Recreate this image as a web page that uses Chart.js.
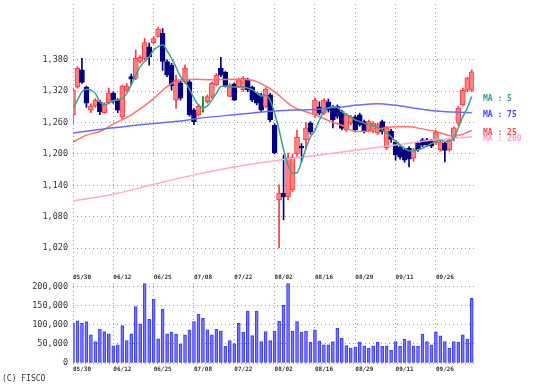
<!DOCTYPE html>
<html>
<head>
<meta charset="utf-8">
<script src="https://cdn.jsdelivr.net/npm/chart.js@4.4.0/dist/chart.umd.min.js"></script>
<style>
  body { margin: 0; background: #fff; width: 536px; height: 389px; overflow: hidden; position: relative; }
  canvas { display: block; }
  #price-wrap { position: absolute; left: 0; top: 0; }
  #vol-wrap { position: absolute; left: 0; top: 278px; }
  #credit { position: absolute; left: 2px; top: 374px; font: 8px "DejaVu Sans Mono", monospace; color: #333; }
</style>
</head>
<body>
<div id="price-wrap"><canvas id="price-chart" width="536" height="282"></canvas></div>
<div id="vol-wrap"><canvas id="vol-chart" width="536" height="100"></canvas></div>
<div id="credit">(C) FISCO</div>
<script>
// --- data ---

const DATES = ['05/30','05/31','06/03','06/04','06/05','06/06','06/07','06/10','06/11','06/12',
  '06/13','06/14','06/17','06/18','06/19','06/20','06/21','06/24','06/25','06/26',
  '06/27','06/28','07/01','07/02','07/03','07/04','07/05','07/08','07/09','07/10',
  '07/11','07/12','07/16','07/17','07/18','07/19','07/22','07/23','07/24','07/25',
  '07/26','07/29','07/30','07/31','08/01','08/02','08/05','08/06','08/07','08/08',
  '08/09','08/13','08/14','08/15','08/16','08/19','08/20','08/21','08/22','08/23',
  '08/26','08/27','08/28','08/29','08/30','09/02','09/03','09/04','09/05','09/06',
  '09/09','09/10','09/11','09/12','09/13','09/17','09/18','09/19','09/20','09/24',
  '09/25','09/26','09/27','09/30','10/01','10/02','10/03','10/04','10/07','10/08'];

const OPEN = [1275,1328,1361,1328,1284,1292,1300,1279,1298,1316,
  1303,1271,1322,1348,1345,1377,1383,1405,1413,1425,
  1431,1377,1370,1303,1336,1338,1338,1284,1275,1282,
  1300,1310,1332,1364,1356,1310,1334,1329,1323,1342,
  1328,1316,1313,1291,1313,1255,1112,1125,1118,1131,
  1200,1215,1227,1259,1275,1290,1278,1300,1290,1291,
  1281,1246,1259,1271,1275,1262,1246,1243,1240,1262,
  1212,1244,1223,1213,1208,1211,1192,1221,1227,1227,
  1225,1221,1208,1221,1208,1231,1259,1294,1322,1322];
const HIGH = [1326,1367,1383,1330,1296,1306,1303,1298,1326,1319,
  1306,1332,1335,1353,1399,1388,1421,1412,1425,1443,
  1440,1380,1374,1351,1340,1370,1342,1287,1294,1310,
  1313,1338,1354,1385,1358,1335,1336,1345,1348,1345,
  1330,1318,1316,1327,1316,1258,1141,1198,1202,1200,
  1245,1220,1260,1262,1307,1300,1306,1305,1293,1294,
  1284,1278,1274,1274,1278,1265,1265,1262,1259,1265,
  1253,1247,1226,1216,1211,1214,1211,1224,1230,1230,
  1228,1245,1226,1224,1230,1252,1291,1326,1347,1361];
const LOW = [1258,1326,1335,1289,1279,1289,1275,1278,1296,1297,
  1279,1266,1320,1332,1342,1374,1380,1370,1411,1423,
  1360,1348,1322,1287,1303,1335,1272,1256,1272,1280,
  1297,1307,1330,1348,1328,1309,1302,1327,1320,1319,
  1300,1294,1281,1288,1262,1200,1020,1074,1112,1128,
  1196,1185,1210,1238,1270,1275,1275,1280,1250,1268,
  1246,1243,1256,1243,1253,1240,1243,1240,1237,1238,
  1208,1222,1188,1190,1184,1175,1186,1205,1214,1214,
  1212,1218,1205,1185,1205,1225,1255,1292,1319,1319];
const CLOSE = [1322,1364,1337,1297,1292,1303,1281,1296,1317,1303,
  1284,1330,1330,1343,1383,1385,1413,1386,1421,1439,
  1377,1351,1330,1342,1307,1364,1275,1262,1291,1282,
  1310,1335,1351,1351,1329,1332,1303,1342,1345,1323,
  1303,1297,1284,1324,1265,1202,1125,1118,1192,1194,
  1232,1211,1250,1242,1303,1278,1303,1284,1265,1272,
  1249,1275,1271,1246,1256,1243,1262,1259,1256,1243,
  1250,1228,1198,1194,1188,1190,1208,1208,1217,1217,
  1215,1242,1223,1207,1227,1250,1288,1322,1345,1357];

const VOLUME = [104000,111000,104000,109000,74000,56500,89000,82600,76500,45000,
  48000,98000,59000,76500,148000,102600,208700,114800,167800,63500,
  141000,76500,81000,75700,50400,74000,87000,108700,128700,117400,
  87000,74000,88700,84300,43500,59000,50400,104000,81000,136500,
  72000,136500,56500,82600,59000,84000,110000,152000,208700,84000,
  108700,81000,84000,54000,87000,58000,48000,48000,56500,91000,
  65000,46000,39000,42000,54000,45000,39000,45000,54000,43500,
  45000,33000,56500,43500,62600,58000,45000,43500,75700,56500,
  48000,81000,71000,56500,39000,56500,55000,74000,62600,169600];

// MA5 read at every bar, the slower lines at the bars listed in *_AT
const MA5 = [1288,1303,1319,1324,1322,1316,1300,1294,1297,1302,
  1303,1306,1316,1332,1351,1367,1377,1386,1399,1405,
  1409,1397,1383,1366,1348,1338,1324,1307,1294,1288,
  1292,1303,1316,1329,1330,1328,1328,1328,1328,1326,
  1323,1317,1311,1313,1303,1278,1246,1208,1179,1163,
  1164,1185,1211,1233,1245,1265,1281,1288,1291,1289,
  1281,1275,1271,1265,1262,1259,1256,1254,1251,1246,
  1240,1233,1224,1217,1211,1206,1206,1208,1211,1215,
  1220,1224,1226,1224,1225,1230,1250,1271,1288,1310];
const MA25_AT = [0, 3, 6, 9, 13, 18, 21, 24, 27, 31, 36, 40, 43, 45, 49, 54, 57, 60, 63, 66, 69, 72, 75, 78, 81, 85, 87, 89];
const MA25    = [1223, 1236, 1243, 1257, 1275, 1306, 1329, 1342, 1343, 1342, 1343, 1341, 1330, 1319, 1291, 1275, 1264, 1255, 1243, 1243, 1249, 1252, 1252, 1248, 1243, 1234, 1238, 1245];
const MA75_AT = [0, 9, 19, 24, 27, 36, 45, 49, 54, 57, 60, 63, 68, 72, 76, 81, 89];
const MA75    = [1240, 1250, 1259, 1263, 1267, 1275, 1282, 1284, 1285, 1288, 1290, 1293, 1296, 1293, 1288, 1282, 1279];
const MA200_AT = [0, 9, 18, 27, 36, 45, 54, 63, 72, 81, 89];
const MA200    = [1110, 1123, 1142, 1160, 1175, 1187, 1197, 1207, 1217, 1227, 1233];

const PRICE_TICKS  = [1020, 1080, 1140, 1200, 1260, 1320, 1380];
const VOLUME_TICKS = [0, 50000, 100000, 150000, 200000];
const LABEL_EVERY  = 9;

// --- styles ---

const GRID = '#999';
const MONO = '"DejaVu Sans Mono", monospace';
const UP   = { fill: '#ff8080', line: '#ff3a3a' };
const DOWN = { fill: '#000080', line: '#000080' };
const FLAT = { fill: '#008000', line: '#008000' };

const MA_SERIES = [
  { label: 'MA : 5',   at: null,      values: MA5,   line: '#3fa096', text: '#3a9a90' },
  { label: 'MA : 75',  at: MA75_AT,   values: MA75,  line: '#6a6aff', text: '#4646ff' },
  { label: 'MA : 200', at: MA200_AT,  values: MA200, line: '#ffa6d6', text: '#ff9ed2' },
  { label: 'MA : 25',  at: MA25_AT,   values: MA25,  line: '#ff7070', text: '#ff4a4a' },
];

const BARS = DATES.map((_, i) => i);

function candleStyle(i) {
  if (CLOSE[i] > OPEN[i]) return UP;
  if (CLOSE[i] < OPEN[i]) return DOWN;
  return FLAT;
}

function xAxis(height) {
  return {
    type: 'linear',
    offset: false,
    min: 0,
    max: DATES.length - 0.5,
    afterBuildTicks: s => { s.ticks = BARS.filter(i => i % LABEL_EVERY === 0).map(v => ({ value: v })); },
    afterFit: s => { s.height = height; s.paddingLeft = 0; s.paddingRight = 0; },
    ticks: {
      autoSkip: false, maxRotation: 0, align: 'start', padding: 3,
      color: '#333', font: { family: MONO, size: 6, weight: 'bold' },
      callback: v => DATES[v],
    },
    grid: { color: GRID, drawTicks: false, offset: false },
    border: { display: false, dash: [1, 3] },
  };
}

function yAxis(min, max, ticks) {
  return {
    min, max,
    afterBuildTicks: s => { s.ticks = ticks.map(v => ({ value: v })); },
    afterFit: s => { s.width = 73; s.paddingTop = 0; s.paddingBottom = 0; },
    ticks: {
      padding: 5, color: '#333', font: { family: MONO, size: 8.5 },
      callback: v => v.toLocaleString('en-US'),
    },
    grid: { color: GRID, drawTicks: false },
    border: { display: false, dash: [1, 3] },
  };
}

// MA name written at the level of each line's last value
const maLabels = {
  id: 'maLabels',
  afterDatasetsDraw(chart) {
    const { ctx, chartArea, scales } = chart;
    ctx.save();
    ctx.font = 'bold 8px ' + MONO;
    ctx.textBaseline = 'middle';
    MA_SERIES.forEach(s => {
      const y = scales.y.getPixelForValue(s.values[s.values.length - 1]);
      ctx.fillStyle = s.text;
      ctx.fillText(s.label, chartArea.right + 9, y + 2);
    });
    ctx.restore();
  },
};

function maDataset(s) {
  const pts = s.at
    ? s.at.map((x, k) => ({ x, y: s.values[k] }))
    : s.values.map((y, x) => ({ x, y }));
  return {
    type: 'line', data: pts, order: 0,
    borderColor: s.line, borderWidth: 1.5, pointRadius: 0,
    cubicInterpolationMode: 'monotone', tension: 0.3,
  };
}

new Chart(document.getElementById('price-chart'), {
  type: 'bar',
  data: {
    datasets: [
      {
        data: BARS.map(i => ({ x: i, y: [LOW[i], HIGH[i]] })),
        backgroundColor: BARS.map(i => candleStyle(i).line),
        barThickness: 1, grouped: false, order: 2,
      },
      {
        data: BARS.map(i => ({ x: i, y: [OPEN[i], CLOSE[i]] })),
        backgroundColor: BARS.map(i => candleStyle(i).fill),
        borderColor: BARS.map(i => candleStyle(i).line),
        borderWidth: 1, borderSkipped: false,
        barThickness: 5, grouped: false, order: 1,
      },
      ...MA_SERIES.map(maDataset),
    ],
  },
  options: {
    responsive: false,
    animation: false,
    layout: { padding: { top: 4, right: 62, left: 0, bottom: 0 } },
    plugins: { legend: { display: false }, tooltip: { enabled: false } },
    scales: {
      x: xAxis(11),
      y: yAxis(976, 1487, PRICE_TICKS),
    },
  },
  plugins: [maLabels],
});

new Chart(document.getElementById('vol-chart'), {
  type: 'bar',
  data: {
    datasets: [{
      data: BARS.map(i => ({ x: i, y: VOLUME[i] })),
      backgroundColor: 'rgba(120,120,255,0.75)',
      borderColor: '#3c3cff',
      borderWidth: 1, borderSkipped: false,
      barThickness: 3,
    }],
  },
  options: {
    responsive: false,
    animation: false,
    layout: { padding: { top: 5, right: 62, left: 0, bottom: 0 } },
    plugins: { legend: { display: false }, tooltip: { enabled: false } },
    scales: {
      x: xAxis(15),
      y: yAxis(0, 210000, VOLUME_TICKS),
    },
  },
});
</script>
</body>
</html>
